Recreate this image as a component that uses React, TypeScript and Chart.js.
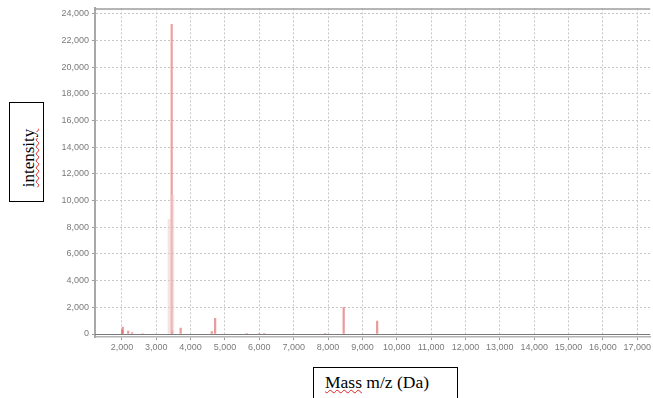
import React, { useEffect, useRef } from 'react';
import { Chart, registerables } from 'chart.js';

Chart.register(...registerables);

// Spectrum peaks (m/z in Da, intensity)
const peakMass = [2010, 2025, 2183, 2300, 2600, 3449, 3462, 3710, 4617, 4713, 5632, 6000, 6145, 7913, 8455, 9430];
const peakIntensity = [300, 520, 220, 100, 40, 23200, 220, 450, 180, 1170, 60, 40, 50, 30, 2000, 970];

// Faint shoulders around the main peak
const shoulderMass = [3378, 3478];
const shoulderIntensity = [8600, 10400];

const xTickValues = [2000, 3000, 4000, 5000, 6000, 7000, 8000, 9000, 10000, 11000, 12000, 13000, 14000, 15000, 16000, 17000];
const yTickValues = [0, 2000, 4000, 6000, 8000, 10000, 12000, 14000, 16000, 18000, 20000, 22000, 24000];
const xRange = [1217, 17377];
const yRange = [-224, 24403];

const yTitle = 'intensity';
const xTitleWord = 'Mass';
const xTitleRest = ' m/z (Da)';

const framePlugin = {
  id: 'frame',
  beforeDatasetsDraw(chart: any) {
    const { ctx, chartArea, scales } = chart;
    ctx.save();
    ctx.setLineDash([]);
    ctx.strokeStyle = '#9c9c9c';
    ctx.lineWidth = 1.5;
    ctx.beginPath();
    ctx.moveTo(chartArea.left, chartArea.top + 0.5);
    ctx.lineTo(chartArea.right, chartArea.top + 0.5);
    ctx.stroke();
    const y0 = Math.round(scales.y.getPixelForValue(0)) + 0.5;
    ctx.strokeStyle = '#7a7a7a';
    ctx.lineWidth = 1;
    ctx.beginPath();
    ctx.moveTo(chartArea.left, y0);
    ctx.lineTo(chartArea.right, y0);
    ctx.stroke();
    ctx.restore();
  },
};

const fmt = (v: number) => Number(v).toLocaleString('en-US');

export default function App() {
  const ref = useRef<HTMLCanvasElement | null>(null);

  useEffect(() => {
    if (!ref.current) return;
    const tickFont = { family: '"Liberation Sans", Arial, sans-serif', size: 9 };
    const chart = new Chart(ref.current, {
      type: 'bar',
      data: {
        datasets: [
          {
            data: shoulderMass.map((m, i) => ({ x: m, y: shoulderIntensity[i] })),
            backgroundColor: 'rgba(238,204,204,0.55)',
            borderWidth: 0,
            barThickness: 2.5,
            grouped: false,
          } as any,
          {
            data: peakMass.map((m, i) => ({ x: m, y: peakIntensity[i] })),
            backgroundColor: (c: any) =>
              c.raw && c.raw.y > 5000 ? 'rgba(228,140,140,0.8)' : 'rgba(220,90,90,0.6)',
            borderWidth: 0,
            barThickness: (c: any) => (c.raw && c.raw.y > 5000 ? 2.2 : 1.6),
            grouped: false,
          } as any,
        ],
      },
      options: {
        animation: false,
        responsive: false,
        maintainAspectRatio: false,
        layout: { padding: { top: 7, left: 0, right: 0, bottom: 0 }, autoPadding: false },
        plugins: { legend: { display: false }, tooltip: { enabled: false }, title: { display: false } },
        scales: {
          x: {
            type: 'linear',
            min: xRange[0],
            max: xRange[1],
            offset: false,
            afterBuildTicks: (s: any) => {
              s.ticks = xTickValues.map((v) => ({ value: v }));
            },
            afterFit: (s: any) => {
              s.height = 61;
            },
            ticks: {
              autoSkip: false,
              maxRotation: 0,
              color: '#7a7a7a',
              font: tickFont,
              padding: 2,
              callback: (v: any) => fmt(v),
            },
            grid: {
              offset: false,
              color: '#c6c6c6',
              lineWidth: 1,
              drawTicks: true,
              tickLength: 3,
              tickColor: '#9a9a9a',
              tickBorderDash: [],
            },
            border: { display: true, color: '#b4b4b4', width: 1.5, dash: [2, 2] },
          },
          y: {
            type: 'linear',
            min: yRange[0],
            max: yRange[1],
            afterBuildTicks: (s: any) => {
              s.ticks = yTickValues.map((v) => ({ value: v }));
            },
            afterFit: (s: any) => {
              s.width = 95;
            },
            ticks: {
              autoSkip: false,
              color: '#7a7a7a',
              font: tickFont,
              padding: 3,
              callback: (v: any) => fmt(v),
            },
            grid: {
              color: '#c6c6c6',
              lineWidth: 1,
              drawTicks: true,
              tickLength: 3,
              tickColor: '#9a9a9a',
              tickBorderDash: [],
            },
            border: { display: true, color: '#a8a8a8', width: 2, dash: [2, 2] },
          },
        },
      } as any,
      plugins: [framePlugin],
    });
    return () => chart.destroy();
  }, []);

  const serif = '"Liberation Serif", "Times New Roman", serif';
  const wavy: React.CSSProperties = {
    textDecorationLine: 'underline',
    textDecorationStyle: 'wavy',
    textDecorationColor: '#e02020',
    textDecorationThickness: '1px',
  };

  return (
    <div style={{ position: 'fixed', left: 0, top: 0, width: 653, height: 398, background: '#fff', overflow: 'hidden' }}>
      <canvas ref={ref} width={653} height={398} style={{ display: 'block', width: 653, height: 398 }} />
      <div
        style={{
          position: 'absolute',
          left: 9,
          top: 102,
          width: 35,
          height: 100,
          boxSizing: 'border-box',
          border: '1.5px solid #000',
          background: '#fff',
        }}
      >
        <span
          style={{
            position: 'absolute',
            left: 18,
            top: 55,
            transform: 'translate(-50%, -50%) rotate(-90deg)',
            whiteSpace: 'nowrap',
            fontFamily: serif,
            fontSize: 17,
            color: '#000',
            lineHeight: 1,
            ...wavy,
          }}
        >
          {yTitle}
        </span>
      </div>
      <div
        style={{
          position: 'absolute',
          left: 313,
          top: 367,
          width: 145,
          height: 40,
          boxSizing: 'border-box',
          border: '1.5px solid #000',
          background: '#fff',
        }}
      >
        <span
          style={{
            position: 'absolute',
            left: 11,
            top: 6,
            whiteSpace: 'nowrap',
            fontFamily: serif,
            fontSize: 17.5,
            color: '#000',
            lineHeight: 1,
          }}
        >
          <span style={wavy}>{xTitleWord}</span>
          {xTitleRest}
        </span>
      </div>
    </div>
  );
}
